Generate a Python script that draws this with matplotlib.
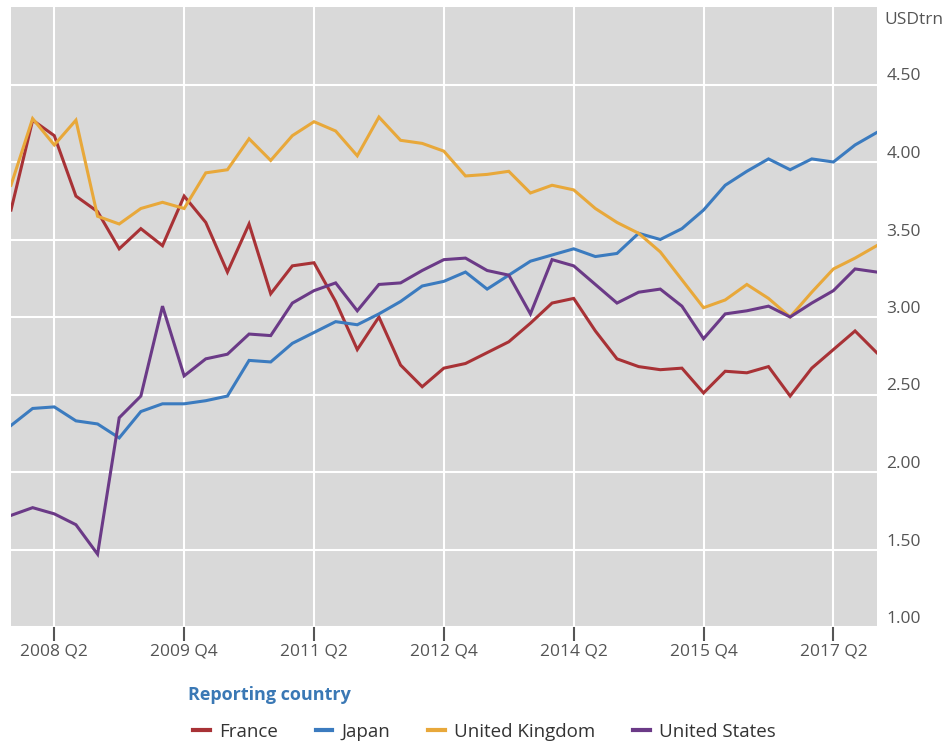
import matplotlib
matplotlib.use("Agg")
import matplotlib.pyplot as plt
from matplotlib.lines import Line2D

plt.rcParams['font.family'] = ['Open Sans', 'DejaVu Sans']

# Quarterly data, 2007 Q4 .. 2017 Q4 (USD trillion)
quarters = [f"{y} Q{q}" for y in range(2007, 2018) for q in range(1, 5)][3:]
france = [3.69, 4.27, 4.17, 3.78, 3.68, 3.44, 3.57, 3.46, 3.78, 3.61,
          3.29, 3.60, 3.15, 3.33, 3.35, 3.10, 2.79, 3.00, 2.69, 2.55,
          2.67, 2.70, 2.77, 2.84, 2.96, 3.09, 3.12, 2.91, 2.73, 2.68,
          2.66, 2.67, 2.51, 2.65, 2.64, 2.68, 2.49, 2.67, 2.79, 2.91,
          2.77]
japan = [2.30, 2.41, 2.42, 2.33, 2.31, 2.22, 2.39, 2.44, 2.44, 2.46,
         2.49, 2.72, 2.71, 2.83, 2.90, 2.97, 2.95, 3.02, 3.10, 3.20,
         3.23, 3.29, 3.18, 3.27, 3.36, 3.40, 3.44, 3.39, 3.41, 3.54,
         3.50, 3.57, 3.69, 3.85, 3.94, 4.02, 3.95, 4.02, 4.00, 4.11,
         4.19]
uk = [3.85, 4.28, 4.11, 4.27, 3.65, 3.60, 3.70, 3.74, 3.70, 3.93,
      3.95, 4.15, 4.01, 4.17, 4.26, 4.20, 4.04, 4.29, 4.14, 4.12,
      4.07, 3.91, 3.92, 3.94, 3.80, 3.85, 3.82, 3.70, 3.61, 3.54,
      3.42, 3.24, 3.06, 3.11, 3.21, 3.12, 3.00, 3.16, 3.31, 3.38,
      3.46]
us = [1.72, 1.77, 1.73, 1.66, 1.47, 2.35, 2.49, 3.07, 2.62, 2.73,
      2.76, 2.89, 2.88, 3.09, 3.17, 3.22, 3.04, 3.21, 3.22, 3.30,
      3.37, 3.38, 3.30, 3.27, 3.02, 3.37, 3.33, 3.21, 3.09, 3.16,
      3.18, 3.07, 2.86, 3.02, 3.04, 3.07, 3.00, 3.09, 3.17, 3.31,
      3.29]

series = [("France", france, "#a83236"),
          ("Japan", japan, "#3b7bbf"),
          ("United Kingdom", uk, "#e8a83a"),
          ("United States", us, "#6b3a87")]

yticks = [1.0, 1.5, 2.0, 2.5, 3.0, 3.5, 4.0, 4.5]
xtick_labels = ["2008 Q2", "2009 Q4", "2011 Q2", "2012 Q4", "2014 Q2", "2015 Q4", "2017 Q2"]

fig = plt.figure(figsize=(9.51, 7.42), dpi=100)
ax = fig.add_axes([11 / 951, 1 - 627 / 742, (876.7 - 11) / 951, 620 / 742])
ax.set_facecolor("#d9d9d9")

x = list(range(len(quarters)))
for name, vals, col in series:
    ax.plot(x, vals, color=col, lw=2.2, solid_joinstyle="miter", zorder=3)

ax.set_xlim(0, len(quarters) - 1)
ax.set_ylim(1.0, 5.0)

xt = [quarters.index(l) for l in xtick_labels]
ax.set_xticks(xt)
ax.set_xticklabels(xtick_labels)
ax.set_yticks(yticks)
ax.set_yticklabels([f"{v:.2f}" for v in yticks])
ax.yaxis.tick_right()
ax.tick_params(axis="y", length=0, pad=7, labelsize=12.5, labelcolor="#555555")
ax.tick_params(axis="x", length=10, width=1.5, color="#555555", pad=2,
               labelsize=12.5, labelcolor="#555555")
for lab in ax.get_yticklabels():
    lab.set_verticalalignment("bottom")

ax.grid(True, color="white", lw=1.5, zorder=1)
ax.set_axisbelow(True)
for s in ax.spines.values():
    s.set_visible(False)

fig.text(884 / 951, 1 - 20 / 742, "USDtrn", fontsize=12.5, color="#555555",
         ha="left", va="center")

# legend
fig.text(188 / 951, 1 - 695 / 742, "Reporting country", fontsize=13,
         fontweight="bold", color="#3a78b5", ha="left", va="center")
handles = [Line2D([], [], color=c, lw=3) for _, _, c in series]
fig.legend(handles, [n for n, _, _ in series], loc="center left",
           bbox_to_anchor=(176 / 951, 1 - 732 / 742), ncol=4, frameon=False,
           fontsize=13.5, handlelength=0.9, handletextpad=0.5, columnspacing=2.0,
           labelcolor="#333333")

fig.savefig("out.png", dpi=100)
